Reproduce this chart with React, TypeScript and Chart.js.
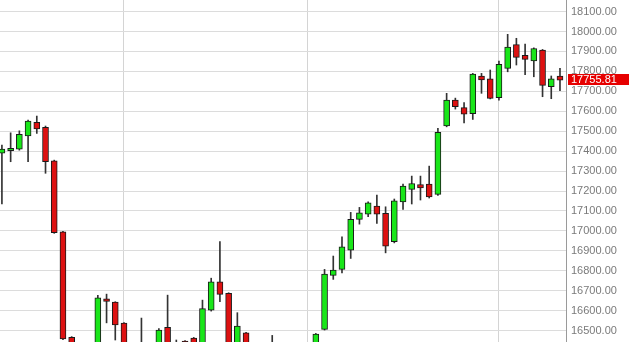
import React, { useEffect, useRef } from "react";
import { Chart, registerables } from "chart.js";

Chart.register(...registerables);

const opens = [
  17390, 17402, 17410, 17476, 17544, 17519, 17352, 16996, 16466, 16290,
  16250, 16390, 16660, 16643, 16538, 16350, 16310, 16390, 16350, 16516,
  16410, 16447, 16463, 16380, 16603, 16745, 16687, 16400, 16489, 16380,
  16330, 16360, 16400, 16350, 16390, 16410, 16420, 16506, 16777, 16807,
  16904, 17058, 17084, 17125, 17088, 16946, 17146, 17208, 17233, 17235,
  17183, 17527, 17656, 17618, 17588, 17777, 17763, 17668, 17815, 17934,
  17880, 17853, 17907, 17723, 17777,
];
const highs = [
  17430, 17492, 17502, 17556, 17576, 17526, 17355, 16998, 16470, 16380,
  16420, 16677, 16683, 16645, 16540, 16420, 16563, 16430, 16510, 16678,
  16453, 16450, 16466, 16653, 16763, 16946, 16690, 16590, 16492, 16420,
  16400, 16476, 16430, 16410, 16425, 16435, 16486, 16807, 16874, 16971,
  17093, 17118, 17146, 17180, 17121, 17160, 17235, 17275, 17275, 17325,
  17514, 17690, 17666, 17643, 17790, 17790, 17807, 17852, 17986, 17966,
  17937, 17918, 17910, 17777, 17815,
];
const lows = [
  17135, 17347, 17405, 17347, 17489, 17289, 16988, 16455, 16250, 16200,
  16180, 16370, 16539, 16453, 16330, 16250, 16200, 16300, 16320, 16380,
  16330, 16350, 16350, 16350, 16598, 16645, 16380, 16380, 16350, 16300,
  16280, 16300, 16320, 16280, 16330, 16360, 16400, 16503, 16757, 16790,
  16862, 17034, 17071, 17038, 16890, 16940, 17108, 17135, 17155, 17165,
  17178, 17522, 17611, 17542, 17559, 17690, 17662, 17656, 17798, 17832,
  17783, 17773, 17673, 17663, 17703,
];
const closes = [
  17410, 17414, 17484, 17551, 17512, 17347, 16991, 16459, 16280, 16240,
  16380, 16665, 16647, 16529, 16350, 16300, 16400, 16350, 16503, 16400,
  16380, 16400, 16380, 16610, 16745, 16682, 16400, 16523, 16380, 16330,
  16360, 16400, 16350, 16390, 16410, 16420, 16483, 16783, 16804, 16920,
  17058, 17091, 17141, 17084, 16924, 17151, 17225, 17238, 17216, 17171,
  17494, 17656, 17623, 17585, 17787, 17757, 17665, 17835, 17922, 17870,
  17860, 17915, 17730, 17763, 17755.81,
];

const yTickValues = [
  16500, 16600, 16700, 16800, 16900, 17000, 17100, 17200, 17300,
  17400, 17500, 17600, 17700, 17800, 17900, 18000, 18100,
];
const monthStartIndex = [14, 35, 57];

const GREEN = "#19e619";
const RED = "#dd1111";
const FONT = '"Liberation Sans", Arial, sans-serif';

export default function App() {
  const ref = useRef<HTMLCanvasElement>(null);

  useEffect(() => {
    if (!ref.current) return;
    const idx = opens.map((_, i) => i);
    const bodies = idx.map((i) => ({ x: i, y: [opens[i], closes[i]] }));
    const wicks = idx.map((i) => ({ x: i, y: [lows[i], highs[i]] }));
    const colors = idx.map((i) => (closes[i] >= opens[i] ? GREEN : RED));
    const lastClose = closes[closes.length - 1];

    const priceTag = {
      id: "priceTag",
      afterDraw(chart: any) {
        const { ctx, chartArea } = chart;
        const y = chart.scales.y.getPixelForValue(lastClose);
        ctx.save();
        ctx.fillStyle = "#e60000";
        ctx.fillRect(chartArea.right + 2, Math.round(y) - 6, 61, 11);
        ctx.fillStyle = "#ffffff";
        ctx.font = "11px " + FONT;
        ctx.textBaseline = "middle";
        ctx.textAlign = "left";
        ctx.fillText(lastClose.toFixed(2), chartArea.right + 5, Math.round(y));
        ctx.restore();
      },
    };

    const chart = new Chart(ref.current, {
      type: "bar",
      data: {
        datasets: [
          {
            data: wicks as any,
            backgroundColor: "#333333",
            barThickness: 1,
            grouped: false,
            order: 2,
          } as any,
          {
            data: bodies as any,
            backgroundColor: colors,
            borderColor: "#1a1a1a",
            borderWidth: 1,
            borderSkipped: false,
            barThickness: 6,
            grouped: false,
            order: 1,
          } as any,
        ],
      },
      options: {
        animation: false,
        responsive: false,
        events: [],
        layout: { padding: 0 },
        plugins: { legend: { display: false }, tooltip: { enabled: false } },
        scales: {
          x: {
            type: "linear",
            min: -0.22,
            max: 64.69,
            offset: false,
            grid: { offset: false, color: "#d4d4d4", drawTicks: false },
            border: { display: false },
            ticks: { display: false },
            afterBuildTicks: (s: any) => {
              s.ticks = monthStartIndex.map((v) => ({ value: v }));
            },
            afterFit: (s: any) => {
              s.height = 0;
              s.paddingLeft = 0;
              s.paddingRight = 0;
            },
          },
          y: {
            position: "right",
            min: 16443,
            max: 18158,
            afterBuildTicks: (s: any) => {
              s.ticks = yTickValues.map((v) => ({ value: v }));
            },
            afterFit: (s: any) => {
              s.width = 65;
              s.paddingTop = 0;
              s.paddingBottom = 0;
            },
            grid: { color: "#dcdcdc", drawTicks: false },
            border: { display: true, color: "#9a9a9a", width: 1 },
            ticks: {
              padding: 5,
              color: "#7a7a7a",
              font: { family: FONT, size: 11 },
              callback: (v: any) => Number(v).toFixed(2),
            },
          },
        } as any,
      },
      plugins: [priceTag],
    });
    return () => chart.destroy();
  }, []);

  return (
    <div
      style={{
        position: "absolute",
        left: 0,
        top: 0,
        width: 631,
        height: 342,
        background: "#ffffff",
      }}
    >
      <canvas ref={ref} width={631} height={342} style={{ display: "block" }} />
    </div>
  );
}
